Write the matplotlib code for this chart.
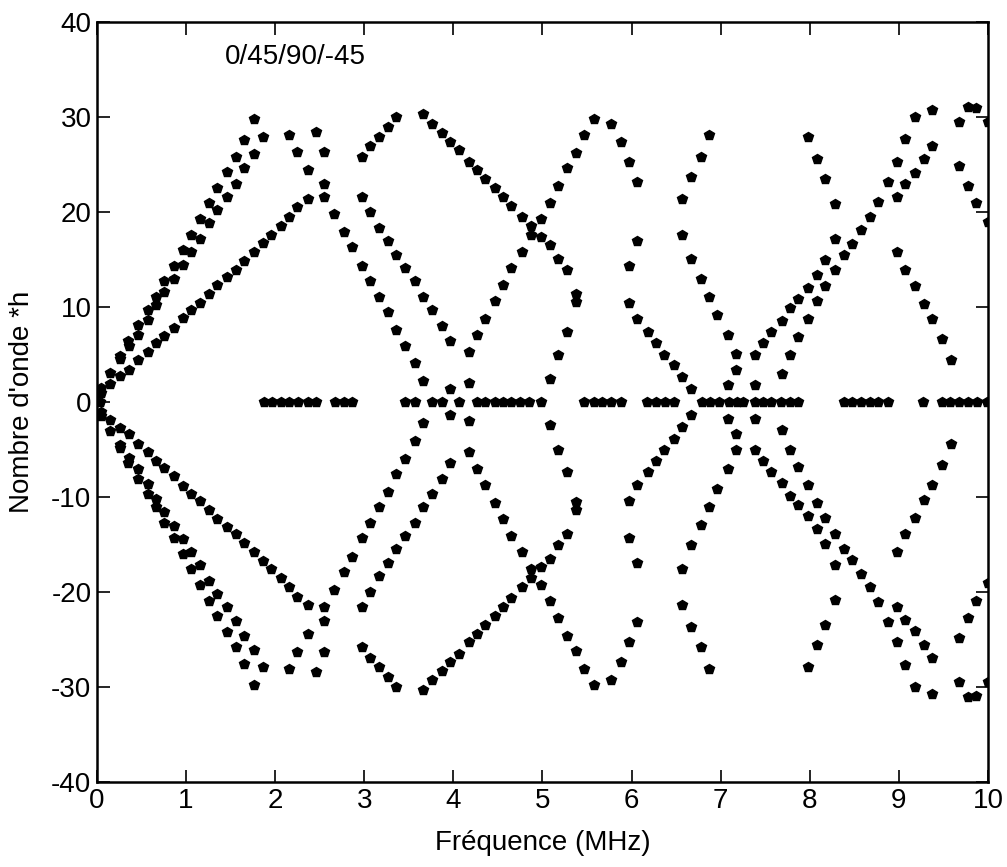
import numpy as np
import matplotlib
matplotlib.use("Agg")
import matplotlib.pyplot as plt

plt.rcParams['font.family'] = ['Liberation Sans', 'DejaVu Sans']
plt.rcParams['axes.unicode_minus'] = False

# upper half of each branch (frequency MHz, wavenumber*h); lower half is its mirror
f_a = [0.05, 0.15, 0.26, 0.35, 0.46, 0.57, 0.66, 0.75, 0.86, 0.96, 1.05, 1.16, 1.26, 1.35, 1.46, 1.56, 1.65, 1.76]
k_a = [1.5, 3.1, 4.8, 6.4, 8.1, 9.65, 11.1, 12.7, 14.35, 16.0, 17.6, 19.3, 20.9, 22.5, 24.2, 25.8, 27.6, 29.8]

f_b = [0.05, 0.26, 0.36, 0.46, 0.57, 0.66, 0.75, 0.86, 0.96, 1.05, 1.16, 1.26, 1.35, 1.46, 1.56, 1.65, 1.76, 1.86]
k_b = [1.0, 4.5, 5.9, 7.1, 8.6, 10.2, 11.6, 13.0, 14.4, 15.8, 17.2, 18.8, 20.2, 21.6, 23.0, 24.6, 26.1, 27.9]

f_lin = [0.15, 0.26, 0.36, 0.46, 0.57, 0.66, 0.75, 0.86, 0.96, 1.05, 1.16, 1.26, 1.35, 1.46, 1.56, 1.65,
         1.76, 1.86, 1.95, 2.07, 2.16, 2.25, 2.37]
k_lin = [1.85, 2.7, 3.4, 4.4, 5.3, 6.2, 6.9, 7.8, 8.8, 9.7, 10.4, 11.4, 12.35, 13.2, 13.9, 14.8,
         15.8, 16.7, 17.6, 18.55, 19.5, 20.5, 21.35]

f_c = [2.16, 2.25, 2.37, 2.46, 2.55, 2.55, 2.55, 2.66, 2.77, 2.86, 2.97, 3.06, 3.16, 3.27, 3.36, 3.46, 3.57, 3.66]
k_c = [28.1, 26.3, 24.4, 28.4, 26.3, 23.0, 21.6, 19.8, 17.85, 16.3, 14.35, 12.7, 11.06, 9.45, 7.56, 5.95, 4.06, 2.2]

f_d = [2.97, 3.06, 3.16, 3.27, 3.36]
k_d = [25.8, 26.9, 27.9, 28.9, 30.0]

f_e = [2.97, 3.06, 3.16, 3.27, 3.36, 3.46, 3.57, 3.66, 3.76, 3.87, 3.96]
k_e = [21.6, 19.95, 18.3, 16.9, 15.5, 14.1, 12.7, 11.06, 9.66, 8.05, 6.45]

f_g = [3.66, 3.76, 3.87, 3.96, 4.06, 4.17, 4.26, 4.36, 4.47, 4.56, 4.65, 4.77, 4.87, 4.98, 5.08, 5.17, 5.28, 5.38]
k_g = [30.3, 29.3, 28.35, 27.4, 26.5, 25.3, 24.4, 23.45, 22.5, 21.56, 20.65, 19.46, 18.55, 17.35, 16.5, 15.05, 13.86, 11.4]

f_h = [3.96, 4.17, 4.17, 4.26, 4.36, 4.47, 4.56, 4.65, 4.77, 4.87, 4.98, 5.08, 5.17, 5.28, 5.38, 5.47, 5.58]
k_h = [1.33, 2.0, 5.28, 7.1, 8.75, 10.6, 12.3, 14.1, 15.75, 17.6, 19.3, 20.9, 22.75, 24.6, 26.2, 28.1, 29.75]

f_i = [5.08, 5.17, 5.28, 5.38, 5.77, 5.88, 5.97, 6.06]
k_i = [2.44, 5.0, 7.35, 10.5, 29.26, 27.4, 25.3, 23.2]

f_j = [6.06, 5.97, 5.97, 6.06, 6.18, 6.27, 6.36, 6.48, 6.57, 6.67]
k_j = [16.9, 14.35, 10.4, 8.75, 7.35, 6.17, 5.0, 3.85, 2.66, 1.33]

f_m = [6.57, 6.67, 6.78, 6.87, 6.57, 6.67, 6.78, 6.87, 6.96, 7.08, 7.17, 7.17, 7.08]
k_m = [21.35, 23.66, 25.77, 28.1, 17.6, 15.05, 12.95, 11.06, 9.2, 7.1, 5.1, 3.4, 1.75]

f_n = [7.385, 7.48, 7.57, 7.685, 7.78, 7.87, 7.98, 8.08, 8.17, 8.28]
k_n = [5.0, 6.17, 7.35, 8.5, 9.9, 10.85, 12.0, 13.4, 14.9, 17.2]

f_p = [7.385, 7.685, 7.78, 7.87, 7.98, 8.08, 8.17, 8.28, 8.38, 8.47, 8.58, 8.68, 8.77, 8.88, 8.98, 9.07, 9.18, 9.37]
k_p = [1.75, 2.9, 5.0, 6.86, 8.75, 10.6, 12.25, 13.86, 15.5, 16.66, 18.13, 19.46, 21.1, 23.2, 25.3, 27.65, 30.03, 30.7]

f_q = [7.98, 8.08, 8.17, 8.28, 8.98, 9.07, 9.18, 9.28, 9.37]
k_q = [27.86, 25.55, 23.45, 20.86, 21.55, 22.96, 24.15, 25.55, 26.95]

f_r = [9.67, 9.78, 9.87, 10.0, 9.67, 9.78, 9.87, 10.0, 8.98, 9.07, 9.18, 9.28, 9.37, 9.48, 9.58]
k_r = [29.5, 31.1, 30.9, 29.5, 24.85, 22.7, 20.95, 19.0, 15.75, 13.86, 12.25, 10.36, 8.75, 6.65, 4.4]

f_zero = [0.03, 1.87, 1.96, 2.07, 2.16, 2.26, 2.37, 2.46, 2.67, 2.77, 2.86, 3.46, 3.57, 3.76, 3.87, 4.06,
          4.26, 4.36, 4.47, 4.56, 4.65, 4.75, 4.85, 4.98, 5.47, 5.58, 5.67, 5.77, 5.88, 6.17, 6.27,
          6.38, 6.48, 6.79, 6.88, 6.98, 7.09, 7.18, 7.25, 7.38, 7.48, 7.57, 7.68, 7.78, 7.87, 8.38,
          8.47, 8.58, 8.68, 8.77, 8.88, 9.27, 9.48, 9.57, 9.67, 9.78, 9.88, 9.99]

branches = [(f_a, k_a), (f_b, k_b), (f_lin, k_lin), (f_c, k_c), (f_d, k_d), (f_e, k_e), (f_g, k_g),
            (f_h, k_h), (f_i, k_i), (f_j, k_j), (f_m, k_m), (f_n, k_n), (f_p, k_p), (f_q, k_q), (f_r, k_r)]

fig = plt.figure(figsize=(10.07, 8.67), dpi=100)
ax = fig.add_axes([0.0963, 0.098, 0.8848, 0.8766])

mk = dict(marker='p', color='black', linestyle='none', markersize=7)
for f, k in branches:
    f = np.array(f)
    k = np.array(k)
    ax.plot(f, k, **mk)
    ax.plot(f, -k, **mk)
ax.plot(f_zero, np.zeros(len(f_zero)), **mk)

ax.set_xlim(0, 10)
ax.set_ylim(-40, 40)
ax.set_xticks(range(0, 11))
ax.set_yticks(range(-40, 41, 10))
ax.tick_params(direction='in', length=9, width=1.2, top=True, right=True, labelsize=20, pad=4)
for s in ax.spines.values():
    s.set_linewidth(1.8)

ax.set_xlabel('Fréquence (MHz)', fontsize=20, labelpad=12)
ax.set_ylabel("Nombre d'onde *h", fontsize=20, labelpad=12)
ax.text(1.44, 36.3, '0/45/90/-45', fontsize=20, va='center', ha='left')

fig.savefig('out.png', dpi=100)
